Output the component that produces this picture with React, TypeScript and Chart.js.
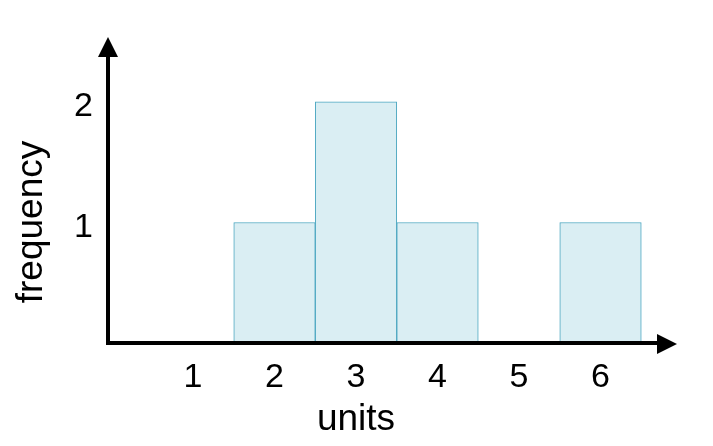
import { useEffect, useRef } from 'react';
import { Chart, registerables } from 'chart.js';

Chart.register(...registerables);

const categories = [2, 3, 4, 6];
const frequencies = [1, 2, 1, 1];
const xTickValues = [1, 2, 3, 4, 5, 6];
const xTickLabels = ['1', '2', '3', '4', '5', '6'];
const yTickValues = [1, 2];
const yTickLabels = ['1', '2'];
const xAxisTitle = 'units';
const yAxisTitle = 'frequency';

const FONT = '"Liberation Sans", Arial, sans-serif';

const axisDecor = {
  id: 'axisDecor',
  afterDraw(chart: any) {
    const { ctx, chartArea: a } = chart;
    ctx.save();
    ctx.fillStyle = '#000';
    // y arrow head
    ctx.beginPath();
    ctx.moveTo(a.left, a.top - 20);
    ctx.lineTo(a.left + 10, a.top);
    ctx.lineTo(a.left - 10, a.top);
    ctx.closePath();
    ctx.fill();
    // x arrow head
    ctx.beginPath();
    ctx.moveTo(a.right + 20, a.bottom + 1);
    ctx.lineTo(a.right, a.bottom - 9);
    ctx.lineTo(a.right, a.bottom + 11);
    ctx.closePath();
    ctx.fill();
    // axis titles
    ctx.font = '37px ' + FONT;
    ctx.textAlign = 'center';
    ctx.textBaseline = 'middle';
    ctx.fillText(xAxisTitle, 356, 420);
    ctx.translate(32, 222);
    ctx.rotate(-Math.PI / 2);
    ctx.fillText(yAxisTitle, 0, 0);
    ctx.restore();
  },
};

export default function App() {
  const ref = useRef<HTMLCanvasElement | null>(null);

  useEffect(() => {
    if (!ref.current) return;
    const chart = new Chart(ref.current, {
      type: 'bar',
      data: {
        datasets: [
          {
            data: categories.map((c, i) => ({ x: c, y: frequencies[i] })),
            backgroundColor: '#daeef3',
            borderColor: '#4ba6c0',
            borderWidth: 1,
            barPercentage: 1,
            categoryPercentage: 1,
          },
        ],
      },
      options: {
        animation: false,
        responsive: false,
        events: [],
        layout: { padding: { left: 0, top: 57, right: 56, bottom: 0 } },
        plugins: { legend: { display: false }, tooltip: { enabled: false } },
        scales: {
          x: {
            type: 'linear',
            min: -0.043,
            max: 6.693,
            offset: false,
            grid: { display: false, drawTicks: false },
            border: { display: true, color: '#000', width: 4, z: 1 },
            afterFit: (scale: any) => {
              scale.height = 103;
            },
            afterBuildTicks: (scale: any) => {
              scale.ticks = xTickValues.map((v) => ({ value: v }));
            },
            ticks: {
              color: '#000',
              padding: 14,
              font: { size: 34, family: FONT },
              maxRotation: 0,
              autoSkip: false,
              callback: (v: any) => {
                const i = xTickValues.indexOf(Number(v));
                return i >= 0 ? xTickLabels[i] : '';
              },
            },
          },
          y: {
            type: 'linear',
            min: 0,
            max: 2.373,
            grid: { display: false, drawTicks: false },
            border: { display: true, color: '#000', width: 4, z: 1 },
            afterFit: (scale: any) => {
              scale.width = 108;
            },
            afterBuildTicks: (scale: any) => {
              scale.ticks = yTickValues.map((v) => ({ value: v }));
            },
            ticks: {
              color: '#000',
              padding: 15,
              labelOffset: 5,
              font: { size: 34, family: FONT },
              autoSkip: false,
              callback: (v: any) => {
                const i = yTickValues.indexOf(Number(v));
                return i >= 0 ? yTickLabels[i] : '';
              },
            },
          },
        },
      },
      plugins: [axisDecor],
    } as any);
    return () => chart.destroy();
  }, []);

  return (
    <div style={{ position: 'fixed', left: 0, top: 0, width: 713, height: 446, background: '#fff' }}>
      <canvas ref={ref} width={713} height={446} style={{ width: 713, height: 446, display: 'block' }} />
    </div>
  );
}
